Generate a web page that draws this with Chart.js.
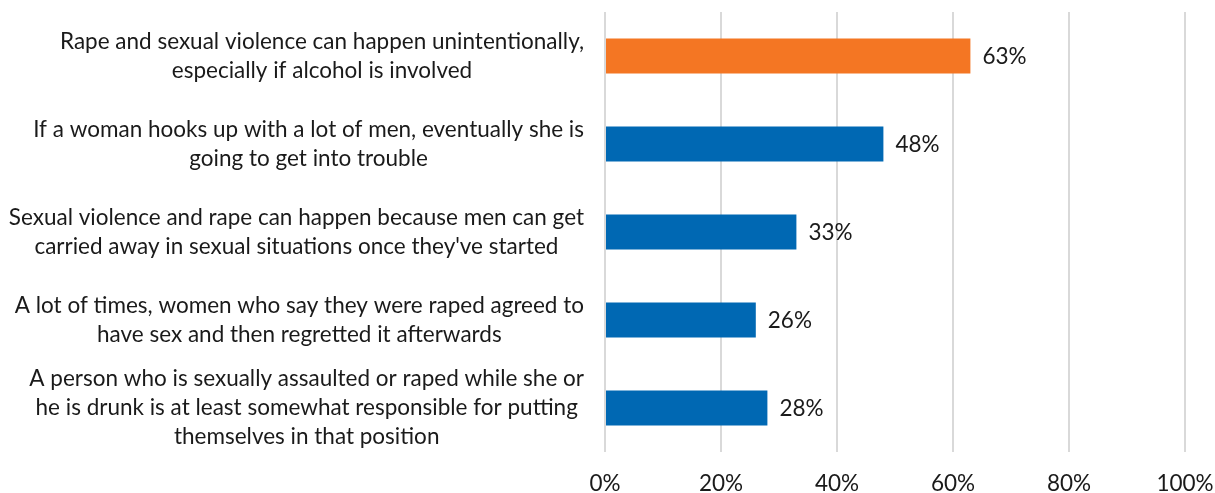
<!DOCTYPE html>
<html>
<head>
<meta charset="utf-8">
<script src="https://cdn.jsdelivr.net/npm/chart.js@4"></script>
<style>
  html, body { margin: 0; padding: 0; background: #fff; }
  #wrap { width: 1215px; height: 493px; }
</style>
</head>
<body>
<div id="wrap"><canvas id="chart" width="1215" height="493"></canvas></div>
<script>
const statements = [
    ["Rape and sexual violence can happen unintentionally,", "especially if alcohol is involved"],
    ["If a woman hooks up with a lot of men, eventually she is", "going to get into trouble"],
    ["Sexual violence and rape can happen because men can get", "carried away in sexual situations once they've started"],
    ["A lot of times, women who say they were raped agreed to", "have sex and then regretted it afterwards"],
    ["A person who is sexually assaulted or raped while she or", "he is drunk is at least somewhat responsible for putting", "themselves in that position"]
];
const agreePct = [63, 48, 33, 26, 28];
const barColors = ["#F47623", "#0068B3", "#0068B3", "#0068B3", "#0068B3"];
const xTicks = [0, 20, 40, 60, 80, 100];

const FONT = "Lato, Calibri, sans-serif";
const FONT_SIZE = 22.5;

// wrapped category labels, each block right-aligned, lines centered inside it
const categoryLabels = {
    id: "categoryLabels",
    afterDraw(chart) {
        const c = chart.ctx;
        const y = chart.scales.y;
        const lineH = 29;
        c.save();
        c.font = FONT_SIZE + "px " + FONT;
        c.fillStyle = "#1a1a1a";
        c.textAlign = "center";
        c.textBaseline = "middle";
        statements.forEach((lines, i) => {
            const widest = Math.max(...lines.map(l => c.measureText(l).width));
            const cx = 584 - widest / 2;
            const cy = y.getPixelForValue(i);
            lines.forEach((l, k) => {
                c.fillText(l, cx, cy + (k - (lines.length - 1) / 2) * lineH);
            });
        });
        c.restore();
    }
};

const valueLabels = {
    id: "valueLabels",
    afterDatasetsDraw(chart) {
        const c = chart.ctx;
        const meta = chart.getDatasetMeta(0);
        c.save();
        c.font = FONT_SIZE + "px " + FONT;
        c.fillStyle = "#1a1a1a";
        c.textAlign = "left";
        c.textBaseline = "middle";
        meta.data.forEach((bar, i) => {
            c.fillText(agreePct[i] + "%", bar.x + 12, bar.y + 1);
        });
        c.restore();
    }
};

new Chart(document.getElementById("chart"), {
    type: "bar",
    data: {
        labels: statements,
        datasets: [{
            data: agreePct,
            backgroundColor: barColors,
            barPercentage: 0.4,
            categoryPercentage: 1
        }]
    },
    options: {
        indexAxis: "y",
        responsive: false,
        animation: false,
        layout: { padding: { top: 12, right: 30, left: 0, bottom: 0 } },
        plugins: { legend: { display: false }, tooltip: { enabled: false } },
        scales: {
            x: {
                min: 0,
                max: 100,
                afterBuildTicks(scale) {
                    scale.ticks = xTicks.map(v => ({ value: v }));
                },
                afterFit(scale) {
                    scale.height = 41;
                    scale.paddingLeft = 0;
                    scale.paddingRight = 0;
                },
                grid: { color: "#d9d9d9", lineWidth: 2, drawTicks: false },
                border: { display: false },
                ticks: {
                    padding: 18,
                    color: "#1a1a1a",
                    font: { family: FONT, size: FONT_SIZE },
                    callback: v => v + "%"
                }
            },
            y: {
                afterFit(scale) { scale.width = 605; },
                grid: { display: false },
                border: { display: false },
                ticks: { display: false }
            }
        }
    },
    plugins: [categoryLabels, valueLabels]
});
</script>
</body>
</html>
